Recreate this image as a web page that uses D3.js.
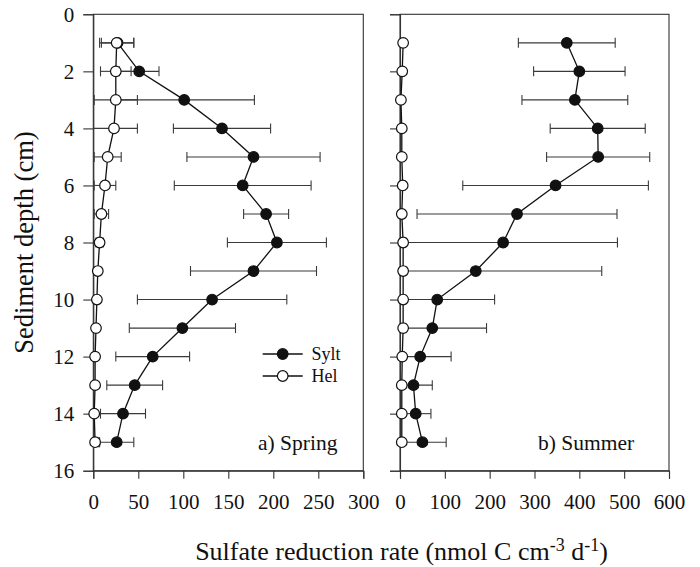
<!DOCTYPE html>
<html>
<head>
<meta charset="utf-8">
<script src="https://cdn.jsdelivr.net/npm/d3@7/dist/d3.min.js"></script>
<style>
  html, body { margin: 0; padding: 0; background: #fff; }
  svg { display: block; }
  text { font-family: "Liberation Serif", "Times New Roman", serif; fill: #111; }
</style>
</head>
<body>
<svg id="chart" width="700" height="567"></svg>
<script>
// Sediment depths (cm)
const depths = [1, 2, 3, 4, 5, 6, 7, 8, 9, 10, 11, 12, 13, 14, 15];

// Spring profiles (nmol C cm-3 d-1) with standard deviations
const springSylt    = [27, 51, 101, 143, 178, 166, 192, 204, 178, 132, 99, 66, 46, 33, 26];
const springSyltErr = [18, 22, 78, 54, 74, 76, 25, 55, 70, 83, 59, 41, 31, 25, 19];
const springHel     = [26, 25, 25, 23, 16, 13, 9, 7, 5, 4, 3, 2, 2, 1, 2];
const springHelErr  = [19, 17, 24, 26, 15, 12, 8, 4, 2, 2, 1, 1, 1, 2, 4];

// Summer profiles
const summerSylt    = [372, 400, 390, 441, 442, 347, 261, 230, 169, 83, 72, 45, 30, 35, 50];
const summerSyltErr = [108, 102, 118, 106, 115, 207, 223, 255, 281, 128, 121, 69, 42, 34, 53];
const summerHel     = [7, 5, 2, 4, 4, 6, 4, 7, 7, 7, 7, 5, 4, 4, 4];
const summerHelErr  = [5, 5, 4, 4, 4, 5, 5, 6, 6, 6, 6, 5, 4, 4, 4];

// Axis ticks
const depthTicks  = [0, 2, 4, 6, 8, 10, 12, 14, 16];
const springTicks = [0, 50, 100, 150, 200, 250, 300];
const summerTicks = [0, 100, 200, 300, 400, 500, 600];

const svg = d3.select("#chart");
const plotTop = 14.3, plotBottom = 470.7;
const y = d3.scaleLinear().domain([0, 16]).range([plotTop, plotBottom]);

function panel(opts) {
  const x = d3.scaleLinear().domain(opts.domain).range([opts.left, opts.right]);
  const g = svg.append("g");

  // frame
  g.append("rect")
    .attr("x", opts.left).attr("y", plotTop)
    .attr("width", opts.right - opts.left).attr("height", plotBottom - plotTop)
    .attr("fill", "none").attr("stroke", "#333").attr("stroke-width", 1.1);

  // y axis
  const ya = g.append("g").attr("transform", `translate(${opts.left},0)`)
    .call(d3.axisLeft(y).tickValues(depthTicks).tickSize(10).tickPadding(9)
      .tickFormat(opts.yLabels ? d3.format("d") : () => ""));
  // x axis
  const xa = g.append("g").attr("transform", `translate(0,${plotBottom})`)
    .call(d3.axisBottom(x).tickValues(opts.ticks).tickSize(8).tickPadding(15).tickFormat(d3.format("d")));
  [ya, xa].forEach(a => {
    a.select(".domain").attr("stroke", "#333").attr("stroke-width", 1.1);
    a.selectAll(".tick line").attr("stroke", "#333").attr("stroke-width", 1.1);
    a.selectAll("text").attr("font-size", 21).attr("fill", "#111")
      .attr("font-family", '"Liberation Serif", "Times New Roman", serif');
  });

  const cap = 5;
  function series(vals, errs, filled) {
    const pts = depths.map((d, i) => ({ d, v: vals[i], e: errs[i] }));
    // error bars
    const eb = g.append("g").attr("stroke", "#3a3a3a").attr("stroke-width", 1.1);
    pts.forEach(p => {
      const lo = p.v - p.e, hi = p.v + p.e;
      const x0 = x(Math.max(lo, opts.domain[0])), x1 = x(hi), yy = y(p.d);
      eb.append("line").attr("x1", x0).attr("x2", x1).attr("y1", yy).attr("y2", yy);
      if (lo >= opts.domain[0]) eb.append("line").attr("x1", x(lo)).attr("x2", x(lo)).attr("y1", yy - cap).attr("y2", yy + cap);
      eb.append("line").attr("x1", x1).attr("x2", x1).attr("y1", yy - cap).attr("y2", yy + cap);
    });
    // profile line
    g.append("path").datum(pts)
      .attr("d", d3.line().x(p => x(p.v)).y(p => y(p.d)))
      .attr("fill", "none").attr("stroke", "#111").attr("stroke-width", 1.3);
    // markers
    g.append("g").selectAll("circle").data(pts).join("circle")
      .attr("cx", p => x(p.v)).attr("cy", p => y(p.d)).attr("r", 5.3)
      .attr("fill", filled ? "#111" : "#fff").attr("stroke", "#111").attr("stroke-width", 1.2);
  }
  series(opts.sylt, opts.syltErr, true);
  series(opts.hel, opts.helErr, false);

  g.append("text").attr("x", opts.tagX).attr("y", 450).attr("font-size", 21.5).text(opts.tag);
  return x;
}

panel({ left: 93.3, right: 363.3, domain: [0, 300], ticks: springTicks, yLabels: true,
  sylt: springSylt, syltErr: springSyltErr, hel: springHel, helErr: springHelErr,
  tag: "a) Spring", tagX: 258 });
panel({ left: 400, right: 669, domain: [0, 600], ticks: summerTicks, yLabels: false,
  sylt: summerSylt, syltErr: summerSyltErr, hel: summerHel, helErr: summerHelErr,
  tag: "b) Summer", tagX: 538 });

// legend
const legend = [{ name: "Sylt", filled: true, y: 354 }, { name: "Hel", filled: false, y: 376 }];
const lg = svg.append("g");
legend.forEach(l => {
  lg.append("line").attr("x1", 262.7).attr("x2", 302.7).attr("y1", l.y).attr("y2", l.y)
    .attr("stroke", "#111").attr("stroke-width", 1.3);
  lg.append("circle").attr("cx", 282.7).attr("cy", l.y).attr("r", 5.3)
    .attr("fill", l.filled ? "#111" : "#fff").attr("stroke", "#111").attr("stroke-width", 1.2);
  lg.append("text").attr("x", 311.5).attr("y", l.y).attr("dy", "0.35em").attr("font-size", 18).text(l.name);
});

// axis titles
svg.append("text")
  .attr("transform", "translate(33,242.5) rotate(-90)")
  .attr("text-anchor", "middle").attr("font-size", 26.5)
  .text("Sediment depth (cm)");

const xt = svg.append("text").attr("x", 401.5).attr("y", 560).attr("text-anchor", "middle").attr("font-size", 26);
xt.append("tspan").text("Sulfate reduction rate (nmol C cm");
xt.append("tspan").attr("dy", -9).attr("font-size", 18).text("-3");
xt.append("tspan").attr("dy", 9).text(" d");
xt.append("tspan").attr("dy", -9).attr("font-size", 18).text("-1");
xt.append("tspan").attr("dy", 9).text(")");
</script>
</body>
</html>
